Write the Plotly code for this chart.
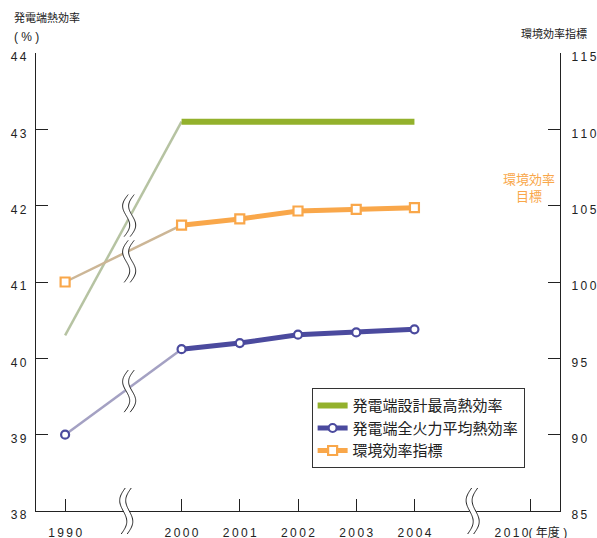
import plotly.graph_objects as go
import numpy as np

# ---- data ----
years = ["1990", "2000", "2001", "2002", "2003", "2004", "2010"]
year_pos = [0, 2, 3, 4, 5, 6, 8]          # broken-axis positions of the categories
design_max = [40.3, 43.1, 43.1, 43.1, 43.1, 43.1]      # 発電端設計最高熱効率 (%)
thermal_avg = [39.0, 40.12, 40.2, 40.31, 40.34, 40.38]  # 発電端全火力平均熱効率 (%)
env_index = [100.0, 103.72, 104.13, 104.65, 104.76, 104.87]  # 環境効率指標
left_ticks = [38, 39, 40, 41, 42, 43, 44]
right_ticks = [85, 90, 95, 100, 105, 110, 115]

GREEN = "#93b12c"
BLUE = "#4b4a9e"
ORANGE = "#f9a74a"
GREEN_L = "#b6c3a2"
BLUE_L = "#a4a1c3"
ORANGE_L = "#ccb696"

CJK = "Noto Sans CJK JP"
NUM = "Liberation Sans, Arial, Noto Sans CJK JP"
TS = "\u2009"

def spaced(s):
    return TS.join(list(s))

xp = year_pos[:6]

fig = go.Figure()

# thin connectors 1990 -> 2000
fig.add_trace(go.Scatter(x=xp[:2], y=design_max[:2], mode="lines",
                         line=dict(color=GREEN_L, width=2.5), showlegend=False, hoverinfo="skip"))
fig.add_trace(go.Scatter(x=xp[:2], y=env_index[:2], mode="lines", yaxis="y2",
                         line=dict(color=ORANGE_L, width=2.5), showlegend=False, hoverinfo="skip"))
fig.add_trace(go.Scatter(x=xp[:2], y=thermal_avg[:2], mode="lines",
                         line=dict(color=BLUE_L, width=2.5), showlegend=False, hoverinfo="skip"))

CIRC = dict(symbol="circle", size=8, color="white", line=dict(color=BLUE, width=2.2))
SQR = dict(symbol="square", size=9, color="white", line=dict(color=ORANGE, width=2.2))

# main series
fig.add_trace(go.Scatter(x=xp[1:], y=design_max[1:], mode="lines", name="発電端設計最高熱効率",
                         line=dict(color=GREEN, width=6)))
fig.add_trace(go.Scatter(x=xp[1:], y=thermal_avg[1:], mode="lines+markers", name="発電端全火力平均熱効率",
                         line=dict(color=BLUE, width=5), marker=CIRC))
fig.add_trace(go.Scatter(x=xp[1:], y=env_index[1:], mode="lines+markers", name="環境効率指標", yaxis="y2",
                         line=dict(color=ORANGE, width=5), marker=SQR))
# 1990 markers
fig.add_trace(go.Scatter(x=xp[:1], y=thermal_avg[:1], mode="markers", showlegend=False, marker=CIRC))
fig.add_trace(go.Scatter(x=xp[:1], y=env_index[:1], mode="markers", showlegend=False, yaxis="y2",
                         marker=SQR))

# break (squiggle) marks
def squiggle_path(dx, H, A=4.5, B=4.0, n=40):
    pts = []
    for i in range(n + 1):
        s = i / n
        x = B * (0.5 - s) - A * np.sin(2 * np.pi * s) + dx
        y = H / 2 - s * H
        pts.append(f"{x:.2f},{y:.2f}")
    return "M" + " L".join(pts)

shapes = []
def add_break(xa, ya, H, xref="x", yref="y"):
    base = dict(type="path", xref=xref, yref=yref, xsizemode="pixel", ysizemode="pixel",
                xanchor=xa, yanchor=ya, layer="above")
    shapes.append(dict(base, path=squiggle_path(0, H), line=dict(color="white", width=6)))
    shapes.append(dict(base, path=squiggle_path(-3, H), line=dict(color="#222", width=1)))
    shapes.append(dict(base, path=squiggle_path(3, H), line=dict(color="#222", width=1)))

add_break(1.1, 41.87, 42)
add_break(1.1, 41.27, 42)
add_break(1.1, 39.57, 42)
# axis breaks (paper-referenced so they are not clipped by the plot area)
add_break((1.05 + 0.5) / 9, 0.0, 46, xref="paper", yref="paper")
add_break((7.0 + 0.5) / 9, 0.0, 46, xref="paper", yref="paper")

fig.update_layout(
    width=597, height=538,
    margin=dict(l=36, r=37, t=53, b=27, autoexpand=False),
    paper_bgcolor="white", plot_bgcolor="white",
    showlegend=True,
    font=dict(family=NUM, size=12, color="#222"),
    xaxis=dict(range=[-0.5, 8.5], tickvals=year_pos, automargin=False,
               ticktext=[spaced(y) for y in years[:-1]] + [spaced(years[-1]) + "( 年度 )"],
               ticks="inside", ticklen=12, tickcolor="#222", showline=True, linecolor="#222", linewidth=1.2,
               showgrid=False, zeroline=False, ticklabelstandoff=10,
               tickfont=dict(family=NUM, size=12, color="#222")),
    yaxis=dict(range=[38, 44], tickvals=left_ticks, ticktext=[spaced(str(v)) for v in left_ticks],
               automargin=False,
               ticks="inside", ticklen=12, tickcolor="#222", showline=True, linecolor="#222", linewidth=1.2,
               showgrid=False, zeroline=False, ticklabelstandoff=6, ticklabelshift=4,
               tickfont=dict(family=NUM, size=12, color="#222")),
    yaxis2=dict(range=[85, 115], tickvals=right_ticks, ticktext=[spaced(str(v)) for v in right_ticks],
                overlaying="y", side="right", automargin=False,
                ticks="inside", ticklen=12, tickcolor="#222", showline=True, linecolor="#222", linewidth=1.2,
                showgrid=False, zeroline=False, ticklabelstandoff=8, ticklabelshift=4,
                tickfont=dict(family=NUM, size=12, color="#222")),
    legend=dict(x=0.526, y=0.268, xanchor="left", yanchor="top", bgcolor="white",
                bordercolor="#333", borderwidth=1, font=dict(family=CJK, size=15, color="#222"),
                tracegroupgap=0),
    shapes=shapes,
    annotations=[
        dict(text="発電端熱効率", xref="paper", yref="paper", x=-0.046, y=1.078, xanchor="left",
             yanchor="middle", showarrow=False, font=dict(family=CJK, size=11, color="#222")),
        dict(text="( % )", xref="paper", yref="paper", x=-0.046, y=1.034, xanchor="left",
             yanchor="middle", showarrow=False, font=dict(family=NUM, size=12, color="#222")),
        dict(text="環境効率指標", xref="paper", yref="paper", x=1.056, y=1.043, xanchor="right",
             yanchor="middle", showarrow=False, font=dict(family=CJK, size=11, color="#222")),
        dict(text="環境効率<br>目標", xref="x", yref="y", x=7.96, y=42.24, xanchor="center",
             yanchor="middle", align="center", showarrow=False,
             font=dict(family=CJK, size=13, color=ORANGE)),
    ],
)

fig.write_html("out.html")
